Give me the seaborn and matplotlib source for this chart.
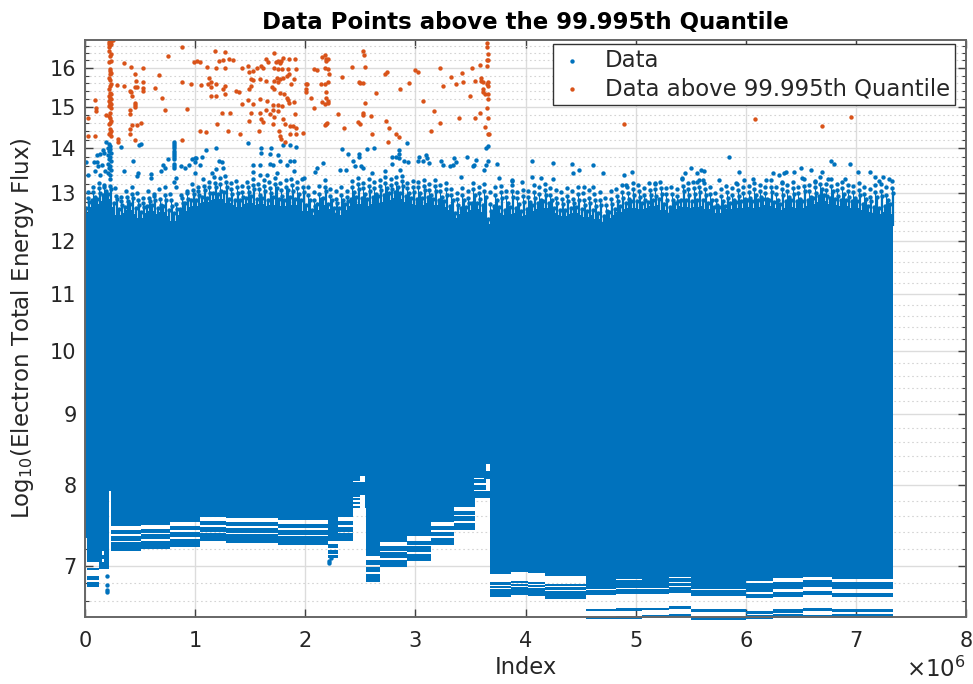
import numpy as np
import seaborn as sns
import matplotlib.pyplot as plt
from matplotlib.ticker import FixedLocator, FixedFormatter, NullFormatter

# solid body of the blue cloud, read every 0.05e6
mass_x = [0.0, 0.05, 0.10, 0.15, 0.20, 0.25, 0.30, 0.35, 0.40, 0.45, 0.50, 0.55, 0.60, 0.65, 0.70, 0.75, 0.80, 0.85, 0.90, 0.95,
          1.00, 1.05, 1.10, 1.15, 1.20, 1.25, 1.30, 1.35, 1.40, 1.45, 1.50, 1.55, 1.60, 1.65, 1.70, 1.75, 1.80, 1.85, 1.90, 1.95,
          2.00, 2.05, 2.10, 2.15, 2.20, 2.25, 2.30, 2.35, 2.40, 2.45, 2.50, 2.55, 2.60, 2.65, 2.70, 2.75, 2.80, 2.85, 2.90, 2.95,
          3.00, 3.05, 3.10, 3.15, 3.20, 3.25, 3.30, 3.35, 3.40, 3.45, 3.50, 3.55, 3.60, 3.65, 3.70, 3.75, 3.80, 3.85, 3.90, 3.95,
          4.00, 4.05, 4.10, 4.15, 4.20, 4.25, 4.30, 4.35, 4.40, 4.45, 4.50, 4.55, 4.60, 4.65, 4.70, 4.75, 4.80, 4.85, 4.90, 4.95,
          5.00, 5.05, 5.10, 5.15, 5.20, 5.25, 5.30, 5.35, 5.40, 5.45, 5.50, 5.55, 5.60, 5.65, 5.70, 5.75, 5.80, 5.85, 5.90, 5.95,
          6.00, 6.05, 6.10, 6.15, 6.20, 6.25, 6.30, 6.35, 6.40, 6.45, 6.50, 6.55, 6.60, 6.65, 6.70, 6.75, 6.80, 6.85, 6.90, 6.95,
          7.00, 7.05, 7.10, 7.15, 7.20, 7.25, 7.30, 7.34]
mass_top = [12.57, 12.70, 12.77, 12.83, 12.87, 12.70, 12.53, 12.57, 12.63, 12.55, 12.47, 12.57, 12.61, 12.55, 12.59, 12.51, 12.40, 12.53, 12.61, 12.71,
            12.73, 12.79, 12.81, 12.85, 12.87, 12.87, 12.79, 12.75, 12.71, 12.77, 12.79, 12.75, 12.77, 12.73, 12.75, 12.77, 12.73, 12.77, 12.75, 12.69,
            12.61, 12.53, 12.63, 12.75, 12.65, 12.57, 12.53, 12.63, 12.73, 12.77, 12.77, 12.73, 12.77, 12.79, 12.81, 12.85, 12.89, 12.87, 12.81, 12.77,
            12.75, 12.75, 12.79, 12.75, 12.75, 12.71, 12.63, 12.47, 12.55, 12.59, 12.63, 12.65, 12.59, 12.35, 12.61, 12.57, 12.53, 12.55, 12.57, 12.51,
            12.53, 12.61, 12.65, 12.69, 12.67, 12.57, 12.53, 12.51, 12.55, 12.57, 12.53, 12.49, 12.53, 12.45, 12.39, 12.47, 12.53, 12.59, 12.65, 12.69,
            12.69, 12.65, 12.67, 12.73, 12.75, 12.63, 12.57, 12.65, 12.73, 12.71, 12.69, 12.71, 12.73, 12.65, 12.57, 12.57, 12.59, 12.65, 12.67, 12.69,
            12.71, 12.69, 12.71, 12.75, 12.73, 12.67, 12.63, 12.69, 12.71, 12.69, 12.69, 12.73, 12.77, 12.81, 12.83, 12.77, 12.75, 12.73, 12.73, 12.69,
            12.69, 12.63, 12.59, 12.57, 12.55, 12.59, 12.63, 12.55]

# ragged fringe on top of the body, four columns per step
fringe_x = [0.025, 0.075, 0.125, 0.175, 0.225, 0.275, 0.325, 0.375, 0.425, 0.475, 0.525, 0.575, 0.625, 0.675, 0.725, 0.775, 0.825, 0.875, 0.925, 0.975,
            1.025, 1.075, 1.125, 1.175, 1.225, 1.275, 1.325, 1.375, 1.425, 1.475, 1.525, 1.575, 1.625, 1.675, 1.725, 1.775, 1.825, 1.875, 1.925, 1.975,
            2.025, 2.075, 2.125, 2.175, 2.225, 2.275, 2.325, 2.375, 2.425, 2.475, 2.525, 2.575, 2.625, 2.675, 2.725, 2.775, 2.825, 2.875, 2.925, 2.975,
            3.025, 3.075, 3.125, 3.175, 3.225, 3.275, 3.325, 3.375, 3.425, 3.475, 3.525, 3.575, 3.625, 3.675, 3.725, 3.775, 3.825, 3.875, 3.925, 3.975,
            4.025, 4.075, 4.125, 4.175, 4.225, 4.275, 4.325, 4.375, 4.425, 4.475, 4.525, 4.575, 4.625, 4.675, 4.725, 4.775, 4.825, 4.875, 4.925, 4.975,
            5.025, 5.075, 5.125, 5.175, 5.225, 5.275, 5.325, 5.375, 5.425, 5.475, 5.525, 5.575, 5.625, 5.675, 5.725, 5.775, 5.825, 5.875, 5.925, 5.975,
            6.025, 6.075, 6.125, 6.175, 6.225, 6.275, 6.325, 6.375, 6.425, 6.475, 6.525, 6.575, 6.625, 6.675, 6.725, 6.775, 6.825, 6.875, 6.925, 6.975,
            7.025, 7.075, 7.125, 7.175, 7.225, 7.275, 7.325]
fringe_top = [13.03, 13.14, 13.22, 13.18, 13.30, 13.10, 12.92, 13.05, 13.14, 13.00, 12.90, 13.05, 12.98, 13.08, 13.12, 12.98, 13.12, 12.96, 13.05, 13.20,
              13.14, 13.30, 13.25, 13.36, 13.33, 13.38, 13.22, 13.26, 13.15, 13.24, 13.30, 13.20, 13.28, 13.25, 13.32, 13.22, 13.28, 13.30, 13.24, 13.30,
              13.12, 13.02, 13.16, 13.28, 13.08, 13.04, 13.12, 13.05, 13.26, 13.32, 13.22, 13.30, 13.24, 13.28, 13.34, 13.30, 13.34, 13.38, 13.22, 13.26,
              13.24, 13.28, 13.20, 13.28, 13.18, 13.22, 13.08, 13.00, 13.10, 13.04, 13.22, 13.14, 13.20, 13.02, 13.12, 13.16, 13.05, 13.18, 13.02, 13.06,
              13.04, 13.18, 13.12, 13.20, 13.10, 13.06, 13.02, 13.10, 13.04, 13.14, 13.00, 13.06, 12.98, 13.02, 12.90, 13.04, 13.08, 13.18, 13.14, 13.22,
              13.18, 13.10, 13.22, 13.20, 13.24, 13.10, 13.12, 13.08, 13.30, 13.22, 13.24, 13.28, 13.22, 13.12, 13.00, 13.08, 13.16, 13.10, 13.20, 13.14,
              13.16, 13.22, 13.18, 13.14, 13.28, 13.12, 13.22, 13.18, 13.24, 13.14, 13.30, 13.18, 13.26, 13.34, 13.20, 13.30, 13.20, 13.24, 13.18, 13.16,
              13.22, 13.14, 13.08, 13.18, 13.20, 13.12, 13.26]
fringe_a = [12.80, 12.92, 13.00, 13.05, 13.08, 12.88, 12.74, 12.82, 12.90, 12.74, 12.70, 12.82, 12.86, 12.74, 12.84, 12.72, 12.66, 12.78, 12.88, 12.98,
            12.96, 13.06, 13.00, 13.12, 13.04, 13.14, 12.98, 13.00, 12.92, 13.02, 13.08, 12.96, 13.04, 13.00, 13.10, 12.94, 13.06, 13.04, 12.98, 13.02,
            12.86, 12.72, 12.88, 13.04, 12.84, 12.78, 12.84, 12.82, 13.02, 13.08, 12.98, 13.04, 12.98, 13.06, 13.10, 13.08, 13.14, 13.16, 13.00, 13.02,
            13.00, 13.06, 12.96, 13.04, 12.92, 12.96, 12.84, 12.74, 12.84, 12.78, 12.96, 12.88, 12.92, 12.62, 12.84, 12.90, 12.78, 12.92, 12.76, 12.80,
            12.80, 12.90, 12.86, 12.96, 12.84, 12.78, 12.76, 12.82, 12.78, 12.86, 12.74, 12.78, 12.72, 12.74, 12.62, 12.76, 12.82, 12.90, 12.88, 12.96,
            12.92, 12.84, 12.96, 12.94, 12.98, 12.84, 12.86, 12.82, 13.04, 12.96, 12.98, 13.02, 12.96, 12.86, 12.74, 12.82, 12.90, 12.84, 12.94, 12.88,
            12.90, 12.96, 12.92, 12.88, 13.02, 12.86, 12.96, 12.92, 12.98, 12.88, 13.04, 12.92, 13.00, 13.08, 12.94, 13.04, 12.94, 12.98, 12.92, 12.90,
            12.96, 12.88, 12.82, 12.92, 12.94, 12.86, 13.00]
fringe_b = [12.68, 12.84, 12.88, 12.96, 12.98, 12.78, 12.66, 12.70, 12.76, 12.68, 12.60, 12.72, 12.74, 12.68, 12.72, 12.64, 12.58, 12.66, 12.78, 12.86,
            12.86, 12.92, 12.90, 13.00, 12.98, 13.02, 12.88, 12.86, 12.84, 12.90, 12.94, 12.88, 12.90, 12.86, 12.92, 12.88, 12.86, 12.92, 12.88, 12.84,
            12.74, 12.64, 12.76, 12.90, 12.76, 12.68, 12.68, 12.76, 12.88, 12.92, 12.90, 12.88, 12.92, 12.94, 12.96, 13.00, 13.02, 13.00, 12.94, 12.90,
            12.88, 12.90, 12.92, 12.88, 12.86, 12.82, 12.72, 12.58, 12.68, 12.70, 12.78, 12.78, 12.74, 12.46, 12.72, 12.70, 12.64, 12.70, 12.68, 12.62,
            12.66, 12.74, 12.78, 12.82, 12.78, 12.68, 12.64, 12.64, 12.68, 12.70, 12.66, 12.62, 12.64, 12.58, 12.52, 12.60, 12.66, 12.72, 12.78, 12.82,
            12.82, 12.78, 12.80, 12.86, 12.88, 12.76, 12.70, 12.78, 12.86, 12.84, 12.82, 12.84, 12.86, 12.78, 12.70, 12.70, 12.72, 12.78, 12.80, 12.82,
            12.84, 12.82, 12.84, 12.88, 12.86, 12.80, 12.76, 12.82, 12.84, 12.82, 12.82, 12.86, 12.90, 12.94, 12.96, 12.90, 12.88, 12.86, 12.86, 12.82,
            12.82, 12.76, 12.72, 12.70, 12.68, 12.72, 12.76]
fringe_c = [12.90, 13.02, 13.10, 13.12, 13.16, 12.94, 12.82, 12.92, 12.98, 12.86, 12.78, 12.90, 12.94, 12.88, 12.96, 12.84, 12.76, 12.90, 13.00, 13.06,
            13.04, 13.16, 13.12, 13.22, 13.20, 13.24, 13.08, 13.12, 13.02, 13.12, 13.18, 13.08, 13.16, 13.10, 13.20, 13.06, 13.14, 13.18, 13.10, 13.14,
            12.96, 12.84, 12.98, 13.14, 12.94, 12.88, 12.96, 12.92, 13.12, 13.20, 13.10, 13.16, 13.10, 13.16, 13.22, 13.18, 13.22, 13.26, 13.10, 13.14,
            13.12, 13.16, 13.06, 13.16, 13.04, 13.08, 12.96, 12.88, 12.96, 12.90, 13.08, 13.00, 13.04, 12.76, 12.96, 13.02, 12.92, 13.04, 12.90, 12.94,
            12.92, 13.02, 12.98, 13.06, 12.96, 12.90, 12.88, 12.94, 12.88, 12.98, 12.86, 12.90, 12.84, 12.86, 12.74, 12.88, 12.94, 13.02, 13.00, 13.08,
            13.04, 12.96, 13.06, 13.08, 13.10, 12.98, 12.98, 12.94, 13.16, 13.08, 13.10, 13.14, 13.08, 12.98, 12.86, 12.94, 13.02, 12.96, 13.06, 13.00,
            13.02, 13.08, 13.04, 13.00, 13.14, 12.98, 13.08, 13.04, 13.10, 13.00, 13.16, 13.04, 13.12, 13.20, 13.06, 13.16, 13.06, 13.10, 13.04, 13.02,
            13.06, 12.98, 12.92, 13.02, 13.04, 12.96, 13.10]

# sparse blue points above the cloud
blue_x = [0.01, 0.03, 0.08, 0.11, 0.11, 0.14, 0.16, 0.17, 0.19, 0.15, 0.12, 0.09, 0.14, 0.18, 0.33, 0.35, 0.44, 0.49, 0.51, 0.48,
          0.47, 0.60, 0.60, 0.69, 0.73, 0.75, 0.71, 0.87, 0.91, 0.94, 0.97, 1.00, 1.01, 1.00, 1.06, 1.10, 1.19, 1.22, 1.24, 1.04,
          1.00, 1.15, 1.19, 1.25, 1.48, 1.60, 1.69, 1.60, 1.68, 1.75, 1.80, 1.86, 1.92, 1.53, 1.59, 1.68, 1.71, 1.77, 1.83, 1.86,
          1.90, 1.53, 1.59, 1.65, 1.74, 1.90, 1.99, 2.16, 2.11, 2.09, 2.33, 2.39, 2.43, 2.49, 2.49, 2.45, 2.51, 2.52, 2.56, 2.62,
          2.61, 2.32, 2.37, 2.72, 2.79, 2.82, 2.85, 2.85, 2.92, 2.85, 2.79, 2.90, 2.93, 2.86, 3.02, 3.03, 3.10, 3.11, 3.07, 3.12,
          3.23, 3.25, 3.35, 3.37, 3.31, 3.34, 3.41, 3.47, 3.55, 3.53, 3.52, 3.64, 3.66, 3.66, 3.64, 3.62, 3.74, 3.76, 3.88, 4.06,
          4.25, 4.42, 4.61, 4.43, 4.49, 4.70, 4.89, 4.97, 4.06, 4.14, 4.25, 3.88, 3.97, 4.53, 4.61, 4.91, 5.18, 5.42, 5.45, 5.50,
          5.56, 5.59, 5.62, 5.56, 5.61, 5.76, 5.85, 5.94, 5.98, 5.91, 6.07, 6.18, 6.25, 6.30, 6.35, 6.37, 6.44, 6.50, 6.59, 6.69,
          6.77, 6.80, 6.95, 7.02, 7.13, 7.17, 7.25, 7.30, 7.21, 6.90, 6.75, 6.63, 6.51, 6.33]
blue_y = [13.69, 13.40, 13.69, 13.69, 13.84, 13.87, 13.96, 13.89, 14.15, 13.63, 13.59, 13.48, 13.40, 13.48, 14.04, 13.48, 13.72, 14.09, 14.10, 13.44,
          13.37, 13.42, 13.33, 13.48, 13.55, 13.76, 13.63, 13.59, 13.55, 13.63, 13.76, 13.78, 13.78, 13.69, 13.79, 13.96, 14.00, 13.70, 13.68, 13.63,
          13.44, 13.44, 13.52, 13.55, 14.13, 14.01, 14.01, 13.89, 13.87, 13.85, 14.08, 14.08, 14.04, 13.63, 13.63, 13.64, 13.63, 13.70, 13.63, 13.72,
          13.70, 13.46, 13.40, 13.40, 13.44, 13.48, 13.33, 13.66, 13.55, 13.46, 13.98, 13.87, 13.70, 13.87, 13.81, 13.60, 13.59, 13.55, 13.98, 14.00,
          13.44, 13.51, 13.51, 13.48, 13.81, 13.81, 13.96, 13.86, 14.12, 13.78, 13.64, 13.70, 13.69, 13.51, 13.70, 13.81, 13.85, 13.78, 13.70, 13.66,
          13.70, 13.63, 13.78, 13.69, 13.59, 13.63, 13.34, 13.81, 13.74, 13.63, 13.59, 14.02, 14.06, 13.70, 13.63, 13.51, 13.65, 13.33, 13.29, 13.70,
          13.66, 13.64, 13.63, 13.43, 13.51, 13.44, 13.40, 13.46, 13.34, 13.33, 13.31, 13.27, 13.25, 13.14, 13.14, 13.18, 13.22, 13.33, 13.44, 13.54,
          13.43, 13.51, 13.49, 13.25, 13.29, 13.28, 13.79, 13.46, 13.29, 13.22, 13.31, 13.28, 13.43, 13.39, 13.44, 13.46, 13.46, 13.54, 13.51, 13.46,
          13.72, 13.65, 13.65, 13.46, 13.46, 13.34, 13.34, 13.31, 13.27, 13.31, 13.31, 13.25, 13.33, 13.25]

# the two dense blue columns
column_a_x = [0.22, 0.23, 0.21, 0.23, 0.22, 0.24, 0.21, 0.23, 0.22, 0.24, 0.21, 0.23, 0.22, 0.24, 0.21, 0.23]
column_a_y = [14.10, 14.06, 14.02, 13.98, 13.94, 13.90, 13.85, 13.80, 13.75, 13.70, 13.65, 13.60, 13.55, 13.50, 13.45, 13.40]
column_b_x = [0.81, 0.81, 0.81, 0.81, 0.81, 0.81, 0.81, 0.81, 0.81, 0.81, 0.81, 0.81, 0.81, 0.83]
column_b_y = [14.15, 14.10, 14.05, 14.00, 13.95, 13.90, 13.85, 13.80, 13.75, 13.65, 13.60, 13.55, 13.25, 13.33]

# points above the quantile
orange_x = [0.03, 0.09, 0.09, 0.10, 0.10, 0.03, 0.19, 0.30, 0.30, 0.29, 0.35, 0.35, 0.42, 0.41, 0.42, 0.45, 0.46, 0.45, 0.47, 0.43,
            0.45, 0.45, 0.45, 0.41, 0.41, 0.43, 0.47, 0.51, 0.41, 0.41, 0.45, 0.53, 0.53, 0.53, 0.53, 0.64, 0.67, 0.70, 0.73, 0.75,
            0.88, 0.88, 0.88, 0.93, 0.96, 0.99, 1.02, 1.04, 1.04, 1.10, 1.05, 1.11, 1.12, 1.13, 1.14, 1.14, 1.19, 1.14, 1.19, 1.18,
            1.27, 1.22, 1.25, 1.19, 1.31, 1.34, 1.27, 1.25, 1.27, 1.27, 1.24, 1.32, 1.20, 1.30, 1.41, 1.37, 1.40, 1.43, 1.48, 1.49,
            1.53, 1.43, 1.48, 1.53, 1.59, 1.51, 1.53, 1.49, 1.51, 1.51, 1.49, 1.58, 1.59, 1.60, 1.62, 1.64, 1.65, 1.56, 1.60, 1.62,
            1.64, 1.66, 1.59, 1.64, 1.72, 1.73, 1.75, 1.77, 1.78, 1.80, 1.85, 1.91, 1.72, 1.75, 1.79, 1.84, 1.92, 1.85, 1.83, 1.80,
            1.74, 1.77, 1.72, 1.75, 1.70, 1.72, 1.77, 1.81, 1.83, 1.84, 1.85, 1.90, 1.87, 1.90, 1.71, 1.75, 1.79, 1.71, 1.75, 1.72,
            1.80, 1.82, 1.86, 1.89, 1.91, 1.92, 1.92, 1.98, 1.76, 1.77, 1.78, 1.86, 1.82, 1.71, 1.68, 2.01, 2.02, 2.01, 2.01, 2.05,
            2.08, 2.08, 2.11, 2.15, 2.18, 2.19, 2.21, 2.19, 2.18, 2.21, 2.22, 2.21, 2.14, 2.18, 2.19, 2.15, 2.19, 2.21, 2.21, 2.18,
            2.18, 2.19, 2.20, 2.30, 2.35, 2.33, 2.42, 2.49, 2.50, 2.52, 2.52, 2.53, 2.54, 2.54, 2.52, 2.52, 2.48, 2.50, 2.60, 2.61,
            2.64, 2.72, 2.74, 2.73, 2.76, 2.82, 2.85, 2.75, 2.86, 2.94, 3.00, 3.02, 3.07, 3.17, 3.14, 3.22, 3.25, 3.22, 3.32, 3.37,
            3.42, 3.43, 3.40, 3.50, 3.51, 3.54, 3.54, 3.59, 3.59, 3.60, 3.60, 3.61, 3.61, 3.61, 3.63, 3.66, 3.66, 3.66, 3.65, 3.65,
            3.65, 3.66, 3.65, 3.66, 3.65, 3.66, 3.65, 3.66, 3.63, 3.66, 3.67, 4.89, 6.08, 6.69, 6.96]
orange_y = [14.28, 14.28, 15.16, 14.96, 14.89, 14.73, 14.79, 14.23, 14.16, 15.56, 16.13, 15.53, 16.02, 15.40, 15.38, 15.83, 15.66, 15.49, 15.50, 15.27,
            15.10, 15.04, 14.99, 14.91, 14.83, 14.55, 14.55, 14.61, 14.45, 14.33, 14.20, 16.00, 15.62, 15.47, 15.40, 15.47, 15.81, 15.21, 14.93, 16.31,
            16.56, 15.64, 14.20, 14.95, 15.57, 16.16, 16.18, 16.15, 14.42, 14.39, 15.56, 16.03, 15.57, 15.73, 15.62, 15.51, 15.57, 15.27, 15.26, 16.45,
            16.44, 16.18, 16.20, 16.00, 16.23, 16.20, 16.00, 15.44, 15.53, 15.33, 14.85, 14.85, 14.59, 14.42, 14.35, 15.40, 15.38, 16.00, 16.06, 15.90,
            15.91, 15.06, 15.16, 15.08, 15.19, 15.70, 15.68, 15.46, 15.53, 14.85, 14.65, 14.41, 14.84, 14.71, 14.63, 14.93, 15.15, 16.00, 16.06, 16.00,
            16.23, 16.17, 15.72, 15.66, 16.40, 16.17, 16.18, 16.13, 16.18, 16.27, 16.23, 16.23, 16.00, 15.96, 15.96, 15.98, 15.98, 15.83, 15.79, 15.74,
            15.74, 15.72, 15.66, 15.64, 15.51, 15.44, 15.36, 15.33, 15.23, 15.16, 15.10, 15.12, 15.59, 15.70, 15.04, 15.04, 15.02, 14.93, 14.89, 14.75,
            14.69, 14.57, 14.53, 14.53, 14.81, 14.47, 14.33, 14.37, 14.41, 14.28, 14.23, 14.33, 14.16, 14.59, 14.81, 15.57, 15.57, 15.44, 15.38, 15.23,
            14.96, 15.96, 15.94, 16.29, 16.34, 16.23, 16.25, 16.18, 16.00, 15.98, 15.85, 15.64, 15.57, 15.57, 15.38, 15.13, 15.23, 15.15, 15.10, 15.08,
            14.55, 14.59, 14.61, 14.83, 14.47, 15.77, 16.03, 15.62, 15.60, 15.60, 16.47, 16.34, 16.03, 15.10, 14.85, 14.80, 14.63, 14.57, 14.77, 14.33,
            15.36, 15.85, 15.89, 14.65, 14.47, 14.33, 14.26, 14.16, 15.44, 15.60, 15.94, 15.90, 15.15, 14.89, 14.42, 16.00, 15.53, 14.61, 15.77, 15.57,
            15.87, 15.62, 14.72, 15.27, 16.00, 15.66, 14.73, 14.85, 16.07, 15.73, 15.66, 15.62, 15.44, 15.38, 15.33, 15.32, 15.53, 15.62, 15.57, 16.67,
            16.56, 16.38, 16.22, 16.20, 16.04, 15.19, 14.98, 14.72, 14.51, 14.33, 14.33, 14.59, 14.69, 14.53, 14.76]
orange_col_x = [0.25, 0.24, 0.22, 0.23, 0.22, 0.24, 0.23, 0.22, 0.22, 0.24, 0.23, 0.24, 0.22, 0.23, 0.23, 0.24, 0.23, 0.22, 0.23, 0.24,
                0.23, 0.22, 0.23, 0.24, 0.22, 0.23, 0.24, 0.22, 0.23, 0.24, 0.23, 0.22, 0.24, 0.23, 0.22, 0.23, 0.24, 0.23, 0.22, 0.23,
                0.24, 0.23, 0.22, 0.24]
orange_col_y = [16.76, 16.73, 16.71, 16.70, 16.64, 16.64, 16.61, 16.58, 16.45, 16.38, 16.31, 16.18, 16.15, 15.96, 15.91, 15.87, 15.83, 15.73, 15.68, 15.57,
                15.53, 15.44, 15.36, 15.32, 15.27, 15.23, 15.19, 15.15, 15.10, 15.08, 15.04, 15.02, 14.98, 14.85, 14.77, 14.73, 14.65, 14.61, 14.57, 14.45,
                14.41, 14.37, 14.33, 14.30]

# steps along the underside of the cloud, each with a floor and three stripes below it
block_start = [0.00, 0.02, 0.127, 0.222, 0.232, 0.51, 0.77, 1.04, 1.28, 1.75, 2.21, 2.30, 2.43, 2.55, 2.68, 2.92, 3.14, 3.35, 3.54, 3.68,
               3.87, 4.02, 4.18, 4.55, 4.82, 5.06, 5.30, 5.50, 6.00, 6.25, 6.52, 6.78]
block_end = [0.02, 0.127, 0.222, 0.232, 0.51, 0.77, 1.04, 1.28, 1.75, 2.21, 2.30, 2.43, 2.55, 2.68, 2.92, 3.14, 3.35, 3.54, 3.68, 3.87,
             4.02, 4.18, 4.55, 4.82, 5.06, 5.30, 5.50, 6.00, 6.25, 6.52, 6.78, 7.34]
floor = [7.33, 7.04, 6.96, 7.93, 7.48, 7.495, 7.525, 7.59, 7.575, 7.55, 7.30, 7.59, 7.70, 7.12, 7.28, 7.35, 7.53, 7.72, 7.83, 6.905,
         6.925, 6.915, 6.885, 6.84, 6.85, 6.852, 6.87, 6.84, 6.83, 6.86, 6.868, 6.85]
stripe1_hi = [np.nan, 6.98, np.nan, np.nan, 7.43, 7.445, 7.475, 7.54, 7.525, 7.50, 7.26, 7.54, np.nan, 7.07, 7.23, 7.30, 7.48, 7.67, np.nan, 6.81,
              6.83, 6.82, 6.79, 6.832, 6.842, 6.844, 6.862, 6.832, 6.80, 6.815, 6.84, 6.82]
stripe1_lo = [np.nan, 6.95, np.nan, np.nan, 7.38, 7.395, 7.425, 7.49, 7.475, 7.45, 7.21, 7.49, np.nan, 7.01, 7.18, 7.25, 7.43, 7.62, np.nan, 6.785,
              6.805, 6.795, 6.765, 6.785, 6.795, 6.797, 6.815, 6.785, 6.76, 6.78, 6.79, 6.775]
stripe2_hi = [np.nan, 6.88, np.nan, np.nan, 7.36, 7.375, 7.405, 7.47, 7.455, 7.43, 7.19, 7.47, np.nan, 6.99, 7.16, 7.23, 7.41, 7.60, np.nan, 6.775,
              6.795, 6.785, 6.755, 6.777, 6.787, 6.789, 6.807, 6.777, 6.755, 6.778, 6.788, 6.773]
stripe2_lo = [np.nan, 6.84, np.nan, np.nan, 7.30, 7.315, 7.345, 7.41, 7.395, 7.37, 7.14, 7.41, np.nan, 6.93, 7.09, 7.16, 7.35, 7.54, np.nan, 6.745,
              6.765, 6.755, 6.725, 6.735, 6.745, 6.747, 6.765, 6.735, 6.70, 6.737, 6.755, 6.737]
stripe3_hi = [np.nan, 6.82, np.nan, np.nan, 7.28, 7.295, 7.325, 7.39, 7.375, 7.35, 7.13, 7.39, np.nan, 6.91, 7.07, 7.14, 7.33, 7.52, np.nan, 6.735,
              6.755, 6.745, 6.715, 6.727, 6.737, 6.739, 6.757, 6.727, 6.685, 6.70, 6.71, 6.69]
stripe3_lo = [np.nan, 6.76, np.nan, np.nan, 7.18, 7.195, 7.225, 7.29, 7.275, 7.25, 7.09, 7.29, np.nan, 6.82, 6.99, 7.06, 7.25, 7.43, np.nan, 6.645,
              6.665, 6.655, 6.625, 6.665, 6.675, 6.677, 6.695, 6.655, 6.635, 6.645, 6.665, 6.652]

# the two lowest stripes, only from 4.55e6 on
low_start = [4.55, 4.82, 5.06, 5.30, 5.50, 6.00, 6.25, 6.52, 6.78]
low_end = [4.82, 5.06, 5.30, 5.50, 6.00, 6.25, 6.52, 6.78, 7.34]
low1_hi = [6.52, 6.528, 6.532, 6.545, 6.515, 6.49, 6.515, 6.525, 6.515]
low1_lo = [6.49, 6.498, 6.502, 6.515, 6.485, 6.46, 6.47, 6.49, 6.48]
low2_hi = [6.435, 6.443, 6.447, 6.46, 6.43, 6.45, 6.46, 6.45, 6.46]
low2_lo = [6.405, 6.413, 6.417, 6.43, 6.40, 6.405, 6.42, 6.42, 6.42]

# empty pockets inside the cloud's underside
gap_start = [0.155, 0.155, 2.50, 2.50, 2.43, 2.43, 2.43, 2.43, 3.64, 3.64, 3.53, 3.53, 3.53]
gap_end = [0.175, 0.175, 2.545, 2.545, 2.50, 2.50, 2.50, 2.50, 3.68, 3.68, 3.62, 3.68, 3.68]
gap_hi = [7.18, 7.08, 8.13, 7.88, 8.055, 7.85, 7.805, 7.755, 8.29, 8.09, 8.10, 8.03, 7.94]
gap_lo = [7.13, 7.04, 8.05, 7.70, 8.04, 7.83, 7.785, 7.735, 8.20, 7.93, 8.08, 8.01, 7.92]

# loose points under the left part
low_dots_x = [0.20, 0.20, 0.20, 0.20, 2.22, 2.22, 2.23]
low_dots_y = [6.88, 6.78, 6.72, 6.70, 7.06, 7.03, 7.09]

x_ticks = [0, 1, 2, 3, 4, 5, 6, 7, 8]
y_ticks = [7, 8, 9, 10, 11, 12, 13, 14, 15, 16]
y_minor = [6.6, 6.8, 7.2, 7.4, 7.6, 7.8, 8.2, 8.4, 8.6, 8.8, 9.2, 9.4, 9.6, 9.8, 10.2, 10.4, 10.6, 10.8,
           11.2, 11.4, 11.6, 11.8, 12.2, 12.4, 12.6, 12.8, 13.2, 13.4, 13.6, 13.8, 14.2, 14.4, 14.6, 14.8,
           15.2, 15.4, 15.6, 15.8, 16.2, 16.4, 16.6]

BLUE = '#0072BD'
ORANGE = '#D95319'
INK = '#262626'

sns.set_theme(style='whitegrid', font='DejaVu Sans')
fig, ax = plt.subplots(figsize=(9.73, 6.84), dpi=100)
fig.subplots_adjust(left=85 / 973, right=966 / 973, top=1 - 40 / 684, bottom=1 - 617 / 684)

ax.set_yscale('log')
ax.set_xlim(0, 8)
ax.set_ylim(6.43, 16.76)

# cloud body
ax.fill_between(mass_x, 9.5, mass_top, step='mid', color=BLUE, lw=0, zorder=2)
for i in range(len(block_start)):
    span = [block_start[i], block_end[i]]
    ax.fill_between(span, floor[i], 9.6, color=BLUE, lw=0, zorder=2)
    for hi, lo in [(stripe1_hi[i], stripe1_lo[i]), (stripe2_hi[i], stripe2_lo[i]), (stripe3_hi[i], stripe3_lo[i])]:
        if not np.isnan(hi):
            ax.fill_between(span, lo, hi, color=BLUE, lw=0, zorder=2)
for i in range(len(low_start)):
    span = [low_start[i], low_end[i]]
    ax.fill_between(span, low1_lo[i], low1_hi[i], color=BLUE, lw=0, zorder=2, clip_on=False)
    ax.fill_between(span, low2_lo[i], low2_hi[i], color=BLUE, lw=0, zorder=2, clip_on=False)
for i in range(len(gap_start)):
    ax.fill_between([gap_start[i], gap_end[i]], gap_lo[i], gap_hi[i], color='white', lw=0, zorder=2.5)

# fringe columns sit a little apart from each other, the lower ones hang on stems
a_x = [x + 0.014 for x in fringe_x]
b_x = [x - 0.014 for x in fringe_x]
c_x = [x + 0.002 for x in fringe_x]
ax.vlines(a_x, 12.3, fringe_a, color=BLUE, lw=1.6, zorder=2)
ax.vlines(b_x, 12.3, fringe_b, color=BLUE, lw=1.6, zorder=2)
ax.vlines(c_x, 12.3, fringe_c, color=BLUE, lw=0.8, zorder=2)

# legend handles come from these two
sns.scatterplot(x=blue_x + column_a_x + column_b_x + low_dots_x + fringe_x + a_x + b_x + c_x,
                y=blue_y + column_a_y + column_b_y + low_dots_y + fringe_top + fringe_a + fringe_b + fringe_c,
                s=10, color=BLUE, linewidth=0, ax=ax, zorder=3, label='Data')
sns.scatterplot(x=orange_x + orange_col_x, y=orange_y + orange_col_y,
                s=10, color=ORANGE, linewidth=0, ax=ax, zorder=3, label='Data above 99.995th Quantile')

ax.xaxis.set_major_locator(FixedLocator(x_ticks))
ax.xaxis.set_major_formatter(FixedFormatter([str(t) for t in x_ticks]))
ax.yaxis.set_major_locator(FixedLocator(y_ticks))
ax.yaxis.set_major_formatter(FixedFormatter([str(t) for t in y_ticks]))
ax.yaxis.set_minor_locator(FixedLocator(y_minor))
ax.yaxis.set_minor_formatter(NullFormatter())

ax.set_axisbelow(True)
ax.grid(True, which='major', color='#dcdcdc', lw=1.0, ls='-')
ax.grid(True, which='minor', axis='y', color='#d4d4d4', lw=0.8, ls=(0, (1.5, 2.5)))
ax.tick_params(which='major', direction='in', length=6, width=1, color='#404040', labelsize=15, labelcolor=INK,
               top=True, right=True, left=True, bottom=True, pad=6)
ax.tick_params(axis='x', which='major', pad=10)
ax.tick_params(which='minor', direction='in', length=3, width=0.8, color='#404040', left=True, right=True)
for s in ax.spines.values():
    s.set_color('#666666')
    s.set_linewidth(1.4)
    s.set_zorder(5)

ax.set_title('Data Points above the 99.995th Quantile', fontsize=16.5, fontweight='bold', color='black', pad=8)
ax.set_xlabel('Index', fontsize=16.3, color=INK, labelpad=4)
ax.set_ylabel('Log$_{10}$(Electron Total Energy Flux)', fontsize=16.5, color=INK, labelpad=10)
ax.text(1.0, -0.09, r'$\times 10^{6}$', transform=ax.transAxes, ha='right', va='center', fontsize=16.5, color=INK,
        math_fontfamily='dejavusans')

leg = ax.legend(loc='upper right', bbox_to_anchor=(0.9875, 0.993), fontsize=16.4, frameon=True, fancybox=False, framealpha=1,
                edgecolor='#333333', facecolor='white', borderpad=0.22, labelspacing=0.22, handletextpad=0.8,
                handlelength=1.25, borderaxespad=0, markerscale=1.0)
leg.get_frame().set_linewidth(1.0)
leg.set_zorder(6)
for t in leg.get_texts():
    t.set_color(INK)

fig.savefig('out.png', dpi=100)
